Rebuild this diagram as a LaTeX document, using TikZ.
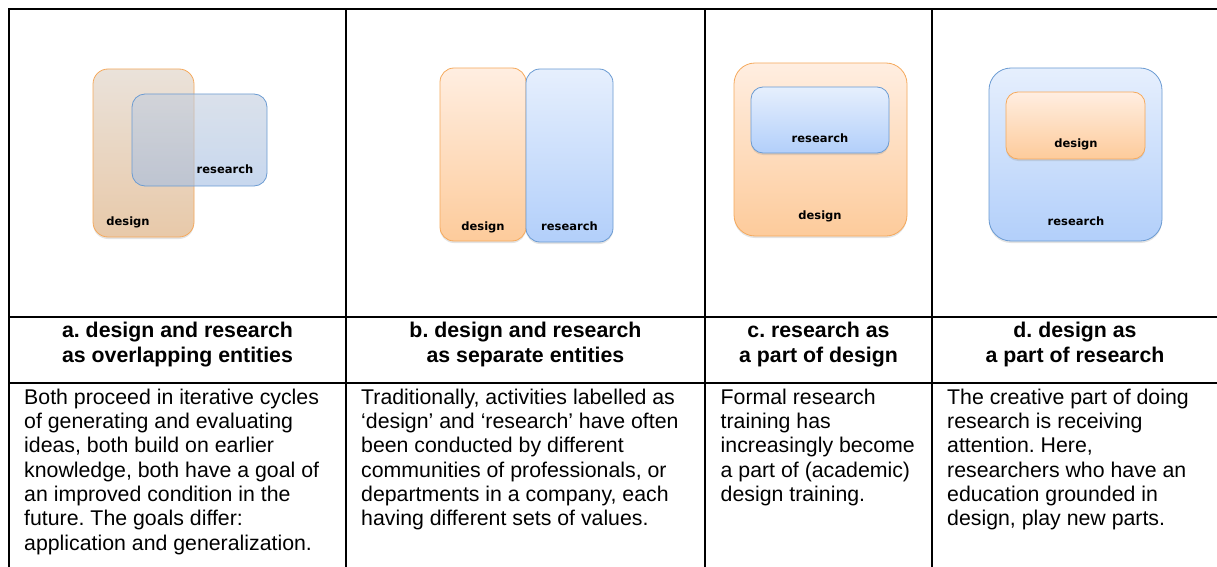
\documentclass[tikz,border=0pt]{standalone}
\usepackage{fontspec}
\setmainfont{Liberation Sans}
\newfontfamily\boxfont{DejaVu Sans}
\usetikzlibrary{shadows}
\frenchspacing
\definecolor{peachtop}{HTML}{FFEEE1}
\definecolor{peachbot}{HTML}{FDCB9B}
\definecolor{peachline}{HTML}{F5A95C}
\definecolor{skytop}{HTML}{E6EFFD}
\definecolor{skybot}{HTML}{B2CFFA}
\definecolor{skyline}{HTML}{6B9BD2}
\definecolor{tantop}{HTML}{EAE2DA}
\definecolor{tanbot}{HTML}{E8C9A9}
\definecolor{misttop}{HTML}{C2CDDD}
\definecolor{mistbot}{HTML}{A2BDE3}

\begin{document}
\begin{tikzpicture}[x=1pt, y=-1pt,
    rule/.style={line width=2.2pt},
    blk/.style={draw, rounded corners=#1, line width=0.8pt, inner sep=0pt},
    lift/.style={drop shadow={opacity=0.22, shadow xshift=0pt, shadow yshift=-2pt}},
    desbox/.style={draw=peachline, top color=peachtop, bottom color=peachbot},
    resbox/.style={draw=skyline, top color=skytop, bottom color=skybot},
    tag/.style={font=\boxfont\bfseries\fontsize{11.5}{13}\selectfont,
                anchor=base, inner sep=0pt},
    % multi-line nodes: base is the last line's baseline
    head/.style={font=\bfseries\fontsize{21.3}{25}\selectfont,
                 align=center, anchor=base, inner sep=0pt},
    body/.style={font=\fontsize{21.3}{24.3}\selectfont,
                 align=left, anchor=base west, inner sep=0pt}
  ]
    \useasboundingbox (0,0) rectangle (1217,567);

    % table frame
    \draw[rule] (9.3,567) -- (9.3,9) -- (1217,9);
    \foreach \x in {345.7, 705, 932}
      \draw[rule] (\x,9) -- (\x,567);
    \draw[rule] (9.3,316.7) -- (1217,316.7);
    \draw[rule] (9.3,383.3) -- (1217,383.3);

    % a. overlapping
    \node[blk=15pt, lift, draw=peachline, top color=tantop, bottom color=tanbot,
          minimum width=101pt, minimum height=168pt] (desA) at (143.5,153) {};
    \node[blk=13pt, draw=skyline, top color=misttop, bottom color=mistbot,
          fill opacity=0.6, minimum width=135pt, minimum height=92pt]
          (resA) at (199.5,140) {};
    \node[tag] (desAtag) at (128,225.7) {design};
    \node[tag] (resAtag) at (225,173.7) {research};

    % b. separate
    \node[blk=14pt, lift, desbox, minimum width=86pt, minimum height=173pt]
          (desB) at (483,154.5) {};
    \node[blk=14pt, lift, resbox, minimum width=87pt, minimum height=173pt]
          (resB) at (569.5,155.5) {};
    \node[tag] (desBtag) at (483,230) {design};
    \node[tag] (resBtag) at (569.5,230.7) {research};

    % c. research inside design
    \node[blk=21pt, lift, desbox, minimum width=173pt, minimum height=173pt]
          (desC) at (820.5,149.5) {};
    \node[blk=12pt, lift, resbox, minimum width=138pt, minimum height=66pt]
          (resC) at (820,120) {};
    \node[tag] (resCtag) at (820,142.7) {research};
    \node[tag] (desCtag) at (820,219.7) {design};

    % d. design inside research
    \node[blk=22pt, lift, resbox, minimum width=173pt, minimum height=173pt]
          (resD) at (1075.5,154.5) {};
    \node[blk=12pt, lift, desbox, minimum width=139pt, minimum height=67pt]
          (desD) at (1075.5,125.5) {};
    \node[tag] (desDtag) at (1076,147.7) {design};
    \node[tag] (resDtag) at (1076,225) {research};

    % headings
    \node[head] (hdA) at (177.5,362.7) {a. design and research\\as overlapping entities};
    \node[head] (hdB) at (525.5,362.7) {b. design and research\\as separate entities};
    \node[head] (hdC) at (818.5,362.7) {c. research as\\a part of design};
    \node[head] (hdD) at (1075,362.7) {d. design as\\a part of research};

    % descriptions
    \node[body] (txA) at (24,550.1) {Both proceed in iterative cycles\\
      of generating and evaluating\\ideas, both build on earlier\\
      knowledge, both have a goal of\\an improved condition in the\\
      future. The goals differ:\\application and generalization.};
    \node[body] (txB) at (361,525.8) {Traditionally, activities labelled as\\
      ‘design’ and ‘research’ have often\\been conducted by different\\
      communities of professionals, or\\departments in a company, each\\
      having different sets of values.};
    \node[body] (txC) at (720.5,501.5) {Formal research\\training has\\
      increasingly become\\a part of (academic)\\design training.};
    \node[body] (txD) at (947,525.8) {The creative part of doing\\
      research is receiving\\attention. Here,\\researchers who have an\\
      education grounded in\\design, play new parts.};
  \end{tikzpicture}
\end{document}
